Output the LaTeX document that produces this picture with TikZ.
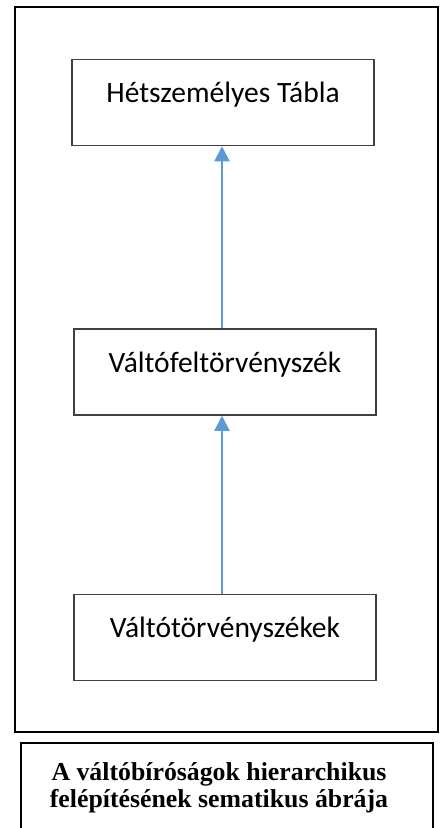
\documentclass[tikz,border=0pt]{standalone}
\usepackage{fontspec}
\setmainfont{Liberation Serif}
\newfontfamily\carlito{Carlito}
\usepackage{tikz}
\usetikzlibrary{arrows.meta}
\usetikzlibrary{positioning}
\definecolor{arrowblue}{HTML}{5B9BD5}
\definecolor{boxgray}{HTML}{404040}

\begin{document}
\begin{tikzpicture}[x=1pt,y=1pt,
        tier/.style={draw=boxgray,line width=1.5pt,minimum width=302pt,inner sep=0pt,
            text height=43pt,text depth=43pt,font=\carlito\fontsize{29.5}{31}\selectfont},
        up/.style={-{Triangle[length=15pt,width=15pt]},arrowblue,line width=2pt}]
        \useasboundingbox (0,0) rectangle (441,-828);

        % outer frame and caption frame
        \draw [line width=2pt] (15,-7) rectangle (438,-732);
        \draw [line width=2.5pt] (21,-743) rectangle (433,-835);

        \node [tier] (tabla) at (223,-102.5) {Hétszemélyes Tábla};
        \node [tier] (felsobb) at (225,-372) {Váltófeltörvényszék};
        \node [tier] (also) at (225,-637.5) {Váltótörvényszékek};

        \draw [up] ([xshift=-3pt]felsobb.north) -- ([xshift=-1pt]tabla.south);
        \draw [up] ([xshift=-3pt]also.north) -- ([xshift=-3pt]felsobb.south);

        \node [align=center,inner sep=0pt,font=\bfseries\fontsize{25.8}{27}\selectfont] (cim) at (219,-788)
            {A váltóbíróságok hierarchikus\\felépítésének sematikus ábrája};
    \end{tikzpicture}
\end{document}
